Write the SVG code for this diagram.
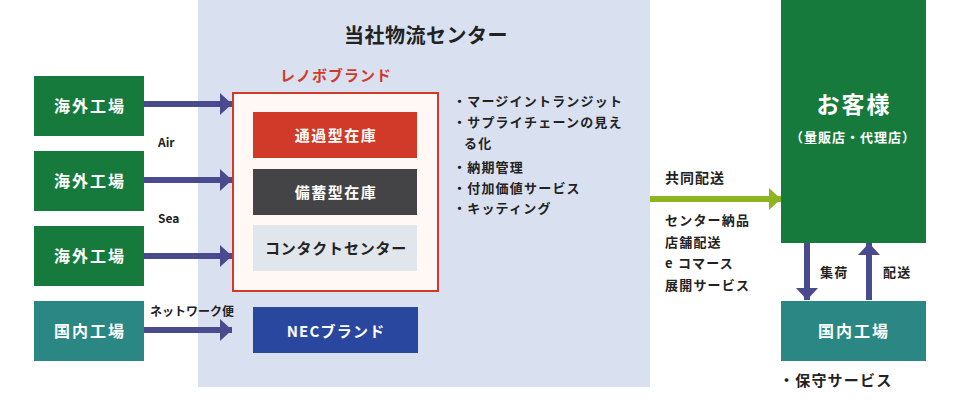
<svg xmlns="http://www.w3.org/2000/svg" width="960" height="404" viewBox="0 0 960 404">
<defs>
<style>
text{font-family:"Noto Sans CJK JP","Noto Sans",sans-serif;font-weight:bold}
.w{fill:#fff}
.k{fill:#222}
.lbl{font-size:13px;letter-spacing:1.2px}
.node{font-size:16px;letter-spacing:2px}
.arr{stroke:#4a4a8e;stroke-width:6;fill:none}
</style>
<marker id="ah" viewBox="0 0 12 22" refX="12" refY="11" markerWidth="12" markerHeight="22" markerUnits="userSpaceOnUse" orient="auto">
<path d="M0,0 L12,11 L0,22 Z" fill="#4a4a8e"/>
</marker>
<marker id="ahg" viewBox="0 0 12 22" refX="12" refY="11" markerWidth="12" markerHeight="22" markerUnits="userSpaceOnUse" orient="auto">
<path d="M0,0 L12,11 L0,22 Z" fill="#8db522"/>
</marker>
</defs>
<rect x="0" y="0" width="960" height="404" fill="#fff"/>
<g id="center">
<rect x="198" y="0" width="452" height="387" fill="#d9e1f1"/>
<text x="426" y="43" text-anchor="middle" font-size="20" class="k" letter-spacing="0.5">当社物流センター</text>
</g>
<g id="lenovo">
<text x="336" y="81" text-anchor="middle" font-size="15" fill="#d13a28" letter-spacing="1">レノボブランド</text>
<rect x="233" y="93" width="205" height="198" fill="#fff8f5" stroke="#d13a28" stroke-width="2"/>
</g>
<g id="tsuka"><rect x="253" y="112" width="164" height="46" fill="#d13a28"/><text x="336" y="141" text-anchor="middle" class="w" font-size="15" letter-spacing="1.5" font-weight="500">通過型在庫</text></g>
<g id="bichiku"><rect x="253" y="169" width="164" height="46" fill="#444446"/><text x="336" y="198" text-anchor="middle" class="w" font-size="15" letter-spacing="1.5" font-weight="500">備蓄型在庫</text></g>
<g id="contact"><rect x="253" y="225" width="164" height="46" fill="#e1e5ec"/><text x="336" y="254" text-anchor="middle" class="k" font-size="15" letter-spacing="0.8" font-weight="500">コンタクトセンター</text></g>
<g id="nec"><rect x="253" y="307" width="165" height="46" fill="#2a47a0"/><text x="336" y="337" text-anchor="middle" class="w" font-size="15" letter-spacing="1.2">NECブランド</text></g>
<g id="services">
<text x="453" y="106" class="k lbl">・マージイントランジット</text>
<text x="453" y="127" class="k lbl">・サプライチェーンの見え</text>
<text x="464" y="148" class="k lbl">る化</text>
<text x="453" y="172" class="k lbl">・納期管理</text>
<text x="453" y="193" class="k lbl">・付加価値サービス</text>
<text x="453" y="213" class="k lbl">・キッティング</text>
</g>
<g id="f1"><rect x="34" y="76" width="110" height="60" fill="#177a3d"/><text x="90" y="112" text-anchor="middle" class="w node">海外工場</text></g>
<g id="f2"><rect x="34" y="151" width="110" height="60" fill="#177a3d"/><text x="90" y="187" text-anchor="middle" class="w node">海外工場</text></g>
<g id="f3"><rect x="34" y="226" width="110" height="60" fill="#177a3d"/><text x="90" y="262" text-anchor="middle" class="w node">海外工場</text></g>
<g id="f4"><rect x="34" y="301" width="110" height="60" fill="#2a8783"/><text x="90" y="337" text-anchor="middle" class="w node">国内工場</text></g>
<g id="customer"><rect x="781" y="0" width="145" height="243" fill="#177a3d"/><text x="854" y="113" text-anchor="middle" class="w" font-size="23" letter-spacing="2">お客様</text><text x="853" y="142" text-anchor="middle" class="w" font-size="13" letter-spacing="1">（量販店・代理店）</text></g>
<g id="domestic"><rect x="781" y="301" width="145" height="60" fill="#2a8783"/><text x="854" y="337" text-anchor="middle" class="w node">国内工場</text></g>
<g id="connectors">
<line x1="144" y1="104" x2="232" y2="104" class="arr" marker-end="url(#ah)"/>
<line x1="144" y1="180" x2="232" y2="180" class="arr" marker-end="url(#ah)"/>
<line x1="144" y1="256" x2="232" y2="256" class="arr" marker-end="url(#ah)"/>
<line x1="144" y1="330" x2="232" y2="330" class="arr" marker-end="url(#ah)"/>
<line x1="650" y1="199" x2="781" y2="199" stroke="#8db522" stroke-width="6" marker-end="url(#ahg)"/>
<line x1="807" y1="243" x2="807" y2="300" class="arr" marker-end="url(#ah)"/>
<line x1="869" y1="300" x2="869" y2="243" class="arr" marker-end="url(#ah)"/>
<text x="158" y="147" class="k" font-size="12">Air</text>
<text x="158" y="223" class="k" font-size="12">Sea</text>
<text x="150" y="316" class="k" font-size="12">ネットワーク便</text>
<text x="665" y="183" class="k" font-size="14" letter-spacing="1">共同配送</text>
<text x="665" y="225" class="k lbl">センター納品</text>
<text x="665" y="247" class="k lbl">店舗配送</text>
<text x="665" y="268" class="k lbl">e コマース</text>
<text x="665" y="290" class="k lbl">展開サービス</text>
<text x="820" y="277" class="k lbl">集荷</text>
<text x="883" y="277" class="k lbl">配送</text>
</g>
<text x="779" y="386" class="k" font-size="15" letter-spacing="1.2">・保守サービス</text>
</svg>
